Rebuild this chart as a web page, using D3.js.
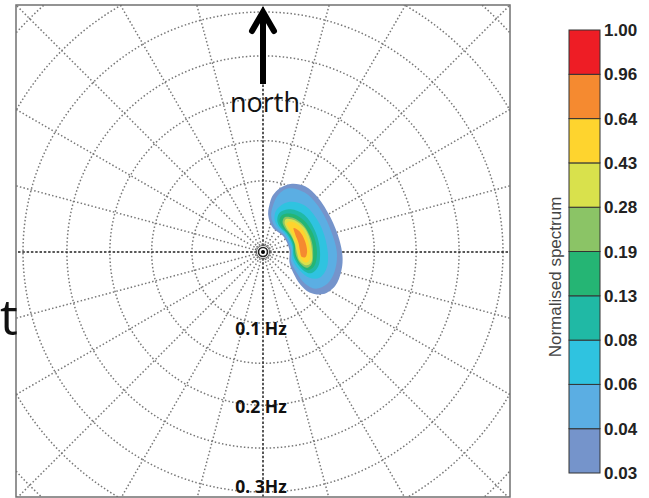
<!DOCTYPE html>
<html><head><meta charset="utf-8">
<script src="https://cdn.jsdelivr.net/npm/d3@7"></script>
<style>body{margin:0;background:#fff}svg{display:block}</style>
</head><body>
<svg id="c" width="649" height="498"></svg>
<script>
// ---- data ----
const ringFreqs = [0.1, 0.15, 0.2, 0.25, 0.3, 0.35, 0.4, 0.45];
const directionTicks = [0,15,30,45,60,75,90,105,120,135,150,165,180,195,210,225,240,255,270,285,300,315,330,345];
const freqLabels = ["0.1 Hz", "0.2 Hz", "0. 3Hz"];
const freqLabelValues = [0.115, 0.209, 0.301];
const levelLabels = ["0.03","0.04","0.06","0.08","0.13","0.19","0.28","0.43","0.64","0.96","1.00"];
const bandColors = ["#7594CB","#5BAEE3","#2FC3E0","#20B9A5","#25B574","#8BC466","#D9E14C","#FED42E","#F58A30","#EE1D25"];
// contours: [direction (deg, clockwise from north), frequency (Hz)]
const contour003 = [[8,0.072],[10,0.083],[15,0.094],[23,0.104],[33,0.109],[45,0.108],[63,0.106],[81,0.108],[94,0.111],[104,0.112],[115,0.111],[125,0.103],[131,0.088],[131,0.072],[125,0.056],[112,0.044],[85,0.041],[55,0.040],[21,0.041],[8,0.056]];
const contour004 = [[12,0.068],[15,0.085],[22,0.097],[35,0.102],[50,0.101],[70,0.100],[90,0.1035],[105,0.104],[116,0.101],[125,0.091],[127,0.076],[121,0.058],[108,0.045],[85,0.043],[55,0.042],[25,0.043],[13,0.055]];
const contour006 = [[18,0.066],[27,0.081],[42,0.089],[65,0.090],[90,0.092],[105,0.093],[115,0.088],[119,0.077],[117,0.062],[105,0.047],[80,0.045],[52,0.044],[30,0.045],[19,0.053]];
const contour008 = [[23,0.063],[33,0.074],[48,0.080],[70,0.081],[90,0.082],[105,0.082],[114,0.076],[114,0.064],[100,0.048],[75,0.0465],[52,0.046],[33,0.0465],[24,0.053]];
const contour013 = [[27,0.061],[37,0.070],[52,0.075],[70,0.077],[90,0.078],[105,0.077],[112,0.071],[110,0.060],[97,0.049],[75,0.048],[55,0.0475],[38,0.048],[28,0.053]];
const contour019 = [[32,0.061],[42,0.067],[57,0.071],[75,0.0725],[90,0.073],[104,0.073],[110,0.068],[107,0.058],[95,0.050],[75,0.0495],[57,0.049],[42,0.0495],[33,0.054]];
const contour028 = [[35,0.060],[45,0.066],[60,0.070],[75,0.071],[90,0.0715],[102,0.072],[107,0.067],[103,0.056],[92,0.0515],[75,0.050],[58,0.050],[44,0.051],[36,0.055]];
const contour043 = [[40,0.059],[47,0.064],[60,0.067],[75,0.068],[90,0.069],[100,0.069],[104,0.065],[100,0.057],[90,0.053],[75,0.052],[60,0.052],[47,0.053],[40,0.055]];
const contour064 = [[52,0.058],[60,0.062],[75,0.064],[90,0.065],[97,0.063],[97,0.058],[88,0.0555],[75,0.055],[62,0.055]];
const contours = [contour003, contour004, contour006, contour008, contour013, contour019, contour028, contour043, contour064];

// ---- layout ----
const svg = d3.select("#c");
const frame = {x0:16, y0:5, x1:510, y1:497};
const cx = 263, cy = 252;
const r = d3.scalePow().exponent(1.108).domain([0, 0.3]).range([0, 240]);

svg.append("defs").append("clipPath").attr("id","clip")
  .append("rect").attr("x",frame.x0).attr("y",frame.y0)
  .attr("width",frame.x1-frame.x0).attr("height",frame.y1-frame.y0);

const plot = svg.append("g").attr("clip-path","url(#clip)");
const g = plot.append("g").attr("transform",`translate(${cx},${cy})`);

// rings
g.selectAll("circle.ring").data(ringFreqs).join("circle")
  .attr("class","ring").attr("r", d => r(d))
  .attr("fill","none").attr("stroke","#777").attr("stroke-width",1.5)
  .attr("stroke-dasharray","1.5,2.2");

// radial lines
const rad = d => d * Math.PI / 180;
g.selectAll("line.spoke").data(directionTicks).join("line")
  .attr("class","spoke")
  .attr("x1", d => 6*Math.sin(rad(d))).attr("y1", d => -6*Math.cos(rad(d)))
  .attr("x2", d => 400*Math.sin(rad(d))).attr("y2", d => -400*Math.cos(rad(d)))
  .attr("stroke", d => d % 90 === 0 ? "#222" : "#777")
  .attr("stroke-width", 1.5)
  .attr("stroke-dasharray", d => d % 90 === 0 ? "2.5,1.8" : "1.5,2.2");

// contours
const line = d3.lineRadial()
  .angle(d => rad(d[0])).radius(d => r(d[1]))
  .curve(d3.curveCatmullRomClosed.alpha(0.5));
g.selectAll("path.lev").data(contours).join("path")
  .attr("class","lev").attr("d", line)
  .attr("fill", (d,i) => bandColors[i]).attr("stroke","none");

// centre marker
g.append("circle").attr("r",8).attr("fill","none").attr("stroke","#666").attr("stroke-width",1.2).attr("stroke-dasharray","1.5,1.5");
g.append("circle").attr("r",4.5).attr("fill","none").attr("stroke","#222").attr("stroke-width",1.6);
g.append("circle").attr("r",2).attr("fill","#000");

// frame
svg.append("rect").attr("x",frame.x0).attr("y",frame.y0)
  .attr("width",frame.x1-frame.x0).attr("height",frame.y1-frame.y0)
  .attr("fill","none").attr("stroke","#707070").attr("stroke-width",1.5);

// frequency labels
svg.selectAll("text.fl").data(freqLabels).join("text")
  .attr("class","fl")
  .attr("x", cx-2).attr("y", (d,i) => cy + r(freqLabelValues[i]))
  .attr("text-anchor","middle")
  .attr("font-family","'Open Sans', sans-serif").attr("font-weight","bold")
  .attr("font-size",17.5).attr("fill","#111")
  .text(d => d);

// north arrow
svg.append("line").attr("x1",cx).attr("x2",cx).attr("y1",84).attr("y2",14)
  .attr("stroke","#000").attr("stroke-width",6);
svg.append("path").attr("d",`M${cx-11},31 L${cx},12 L${cx+11},31`)
  .attr("fill","none").attr("stroke","#000").attr("stroke-width",6)
  .attr("stroke-linecap","round").attr("stroke-linejoin","miter");
svg.append("text").attr("x",cx+2).attr("y",112).attr("text-anchor","middle")
  .attr("font-family","'Open Sans', sans-serif").attr("font-size",27).attr("fill","#111")
  .text("north");

// partial label at left edge
svg.append("text").attr("x",0).attr("y",335)
  .attr("font-family","'Open Sans', sans-serif").attr("font-size",50).attr("fill","#111")
  .text("t");

// colour bar
const cb = {x:569, w:31};
const y = d3.scaleLinear().domain([0, bandColors.length]).range([473, 30]);
const bar = svg.append("g");
bar.selectAll("rect").data(bandColors).join("rect")
  .attr("x", cb.x).attr("width", cb.w)
  .attr("y", (d,i) => y(i+1)).attr("height", (d,i) => y(i) - y(i+1))
  .attr("fill", d => d).attr("stroke","#333").attr("stroke-width",1);
bar.selectAll("text").data(levelLabels).join("text")
  .attr("x", cb.x + cb.w + 4).attr("y", (d,i) => y(i) + 6)
  .attr("font-family","'Liberation Sans', Arial, sans-serif").attr("font-weight","bold")
  .attr("font-size",17).attr("fill","#222")
  .text(d => d);
svg.append("text").attr("transform","translate(561,277) rotate(-90)")
  .attr("text-anchor","middle")
  .attr("font-family","'Liberation Sans', Arial, sans-serif").attr("font-size",17).attr("fill","#444")
  .text("Normalised spectrum");
</script>
</body></html>
